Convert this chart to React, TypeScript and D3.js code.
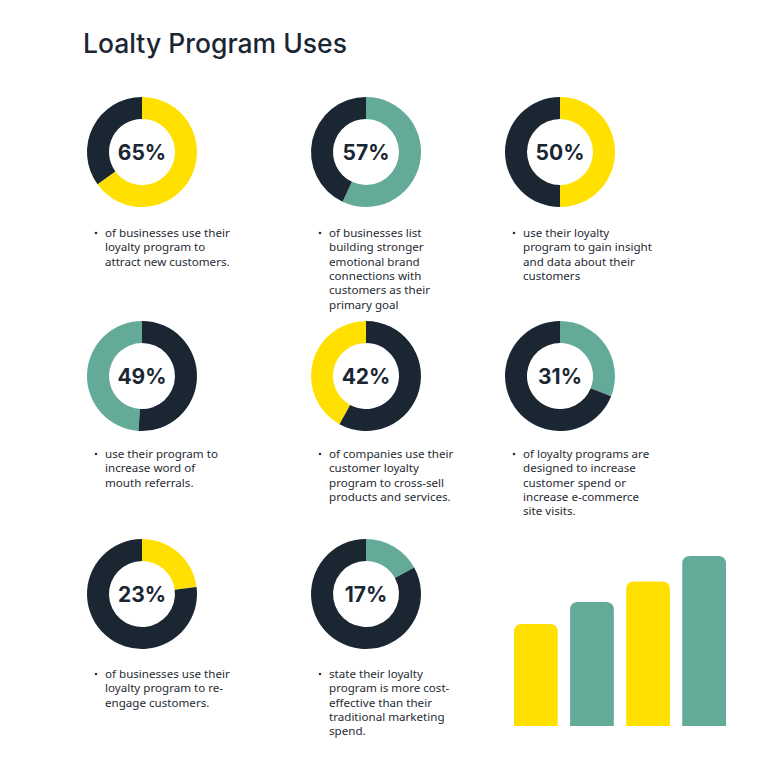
import React, { useEffect, useRef } from "react";
import * as d3 from "d3";

const percents = [65, 57, 50, 49, 42, 31, 23, 17];
const accents = ["yellow", "teal", "yellow", "teal", "yellow", "teal", "yellow", "teal"];
const clockwise = [true, true, true, false, false, true, true, true];
const descriptions = [
  ["of businesses use their", "loyalty program to", "attract new customers."],
  ["of businesses list", "building stronger", "emotional brand", "connections with", "customers as their", "primary goal"],
  ["use their loyalty", "program to gain insight", "and data about their", "customers"],
  ["use their program to", "increase word of", "mouth referrals."],
  ["of companies use their", "customer loyalty", "program to cross-sell", "products and services."],
  ["of loyalty programs are", "designed to increase", "customer spend or", "increase e-commerce", "site visits."],
  ["of businesses use their", "loyalty program to re-", "engage customers."],
  ["state their loyalty", "program is more cost-", "effective than their", "traditional marketing", "spend."],
];

const barCats = ["a", "b", "c", "d"];
const barValues = [60, 73, 85, 100];
const barColors = ["yellow", "teal", "yellow", "teal"];

const palette: Record<string, string> = {
  yellow: "#FFE000",
  teal: "#64AA99",
  dark: "#1B2633",
};

export default function App() {
  const ref = useRef<SVGSVGElement>(null);

  useEffect(() => {
    document.body.style.margin = "0";
    const svg = d3.select(ref.current);
    svg.selectAll("*").remove();

    const W = 760,
      H = 778;
    svg.attr("width", W).attr("height", H);

    svg
      .append("text")
      .attr("x", 83)
      .attr("y", 53)
      .attr("font-family", "Inter, sans-serif")
      .attr("font-size", 26.5)
      .attr("font-weight", 500)
      .attr("fill", palette.dark)
      .text("Loalty Program Uses");

    const colX = [142, 366, 560];
    const rowY = [152, 376, 594];
    const textY = [237, 458, 678];
    const outer = 55,
      inner = 33;

    const arc = d3.arc<d3.PieArcDatum<number>>().innerRadius(inner).outerRadius(outer);

    percents.forEach((p, i) => {
      const cx = colX[i % 3],
        cy = rowY[Math.floor(i / 3)];
      const pie = d3
        .pie<number>()
        .sort(null)
        .value((d) => d)
        .startAngle(0)
        .endAngle(clockwise[i] ? 2 * Math.PI : -2 * Math.PI);
      const g = svg.append("g").attr("transform", `translate(${cx},${cy})`);
      g.selectAll("path")
        .data(pie([p, 100 - p]))
        .enter()
        .append("path")
        .attr("d", arc)
        .attr("fill", (d, j) => (j === 0 ? palette[accents[i]] : palette.dark));

      g.append("text")
        .attr("text-anchor", "middle")
        .attr("dy", "0.36em")
        .attr("font-family", "Inter, sans-serif")
        .attr("font-size", 21)
        .attr("font-weight", 700)
        .attr("fill", palette.dark)
        .text(`${p}%`);

      // description
      const t = svg.append("g").attr("transform", `translate(${cx - 46},${textY[Math.floor(i / 3)]})`);
      t.append("circle").attr("cx", 0).attr("cy", -4).attr("r", 1.3).attr("fill", "#333");
      t.selectAll("text.line")
        .data(descriptions[i])
        .enter()
        .append("text")
        .attr("class", "line")
        .attr("x", 9)
        .attr("y", (d, j) => j * 14.3)
        .attr("font-family", "'Noto Sans', sans-serif")
        .attr("font-size", 11.6)
        .attr("fill", "#262b33")
        .text((d) => d);
    });

    // decorative bars
    const x = d3.scaleBand().domain(barCats).range([514, 726]).paddingInner(0.22);
    const y = d3.scaleLinear().domain([0, 100]).range([726, 556]);
    const r = 8;
    svg
      .append("g")
      .selectAll("path")
      .data(barValues)
      .enter()
      .append("path")
      .attr("fill", (d, i) => palette[barColors[i]])
      .attr("d", (d, i) => {
        const x0 = x(barCats[i])!,
          w = x.bandwidth(),
          y0 = y(d),
          yb = y(0);
        return `M${x0},${yb}V${y0 + r}Q${x0},${y0} ${x0 + r},${y0}H${x0 + w - r}Q${x0 + w},${y0} ${x0 + w},${y0 + r}V${yb}Z`;
      });
  }, []);

  return <svg ref={ref}></svg>;
}
